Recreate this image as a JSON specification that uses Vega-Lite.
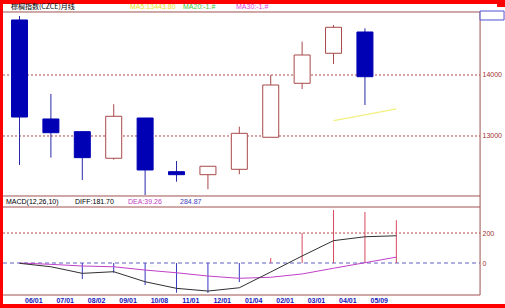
{
  "$schema": "https://vega.github.io/schema/vega-lite/v6.json",
  "width": 502,
  "height": 300,
  "autosize": {"type": "none"},
  "padding": {"left": 3, "top": 4, "right": 0, "bottom": 4},
  "background": "#ff0000",
  "config": {"view": {"fill": "white", "stroke": null}, "font": "Liberation Sans", "scale": {"continuousPadding": 0}},
  "datasets": {
    "candles": [
      {"slot": 1, "open": 14902, "high": 14967, "low": 12525, "close": 13311},
      {"slot": 2, "open": 13279, "high": 13689, "low": 12645, "close": 13054},
      {"slot": 3, "open": 13071, "high": 13071, "low": 12279, "close": 12645},
      {"slot": 4, "open": 12635, "high": 13520, "low": 12612, "close": 13323},
      {"slot": 5, "open": 13295, "high": 13295, "low": 12033, "close": 12443},
      {"slot": 6, "open": 12415, "high": 12590, "low": 12251, "close": 12366},
      {"slot": 7, "open": 12366, "high": 12504, "low": 12127, "close": 12504},
      {"slot": 8, "open": 12454, "high": 13153, "low": 12372, "close": 13044},
      {"slot": 9, "open": 12979, "high": 14000, "low": 12979, "close": 13836},
      {"slot": 10, "open": 13864, "high": 14546, "low": 13770, "close": 14328},
      {"slot": 11, "open": 14356, "high": 14820, "low": 14180, "close": 14782},
      {"slot": 12, "open": 14705, "high": 14765, "low": 13508, "close": 13972}
    ],
    "ma5": [
      {"slot": 11, "ma": 13251},
      {"slot": 12, "ma": 13347},
      {"slot": 13, "ma": 13443}
    ],
    "macd": [
      {"slot": 1, "diff": -2, "dea": 0},
      {"slot": 2, "diff": -25, "dea": -9},
      {"slot": 3, "diff": -69, "dea": -20, "hist": -107},
      {"slot": 4, "diff": -58, "dea": -25, "hist": -65},
      {"slot": 5, "diff": -125, "dea": -47, "hist": -147},
      {"slot": 6, "diff": -169, "dea": -65, "hist": -198},
      {"slot": 7, "diff": -187, "dea": -87, "hist": -200},
      {"slot": 8, "diff": -165, "dea": -102, "hist": -127},
      {"slot": 9, "diff": -60, "dea": -95, "hist": 33},
      {"slot": 10, "diff": 47, "dea": -73, "hist": 200},
      {"slot": 11, "diff": 149, "dea": -35, "hist": 353},
      {"slot": 12, "diff": 175, "dea": 2, "hist": 340},
      {"slot": 13, "diff": 181.7, "dea": 39.26, "hist": 284.87}
    ],
    "priceTicks": [{"v": 13000}, {"v": 14000}],
    "macdTicks": [{"v": 0}, {"v": 200}]
  },
  "resolve": {"scale": {"y": "independent"}, "axis": {"y": "independent"}},
  "layer": [
    {
      "layer": [
        {
          "data": {"name": "priceTicks"},
          "mark": {"type": "rule", "color": "#b04848", "strokeDash": [2, 2], "strokeWidth": 1},
          "encoding": {
            "x": {"datum": 0.4745, "title": null, "scale": {"domain": [0.4745, 16.46], "nice": false, "zero": false, "padding": 0},
                  "axis": {"values": [1.44, 2.44, 3.44, 4.44, 5.44, 6.44, 7.44, 8.44, 9.44, 10.44, 11.44, 12.44],
                           "labelExpr": "['06/01','07/01','08/02','09/01','10/08','11/01','12/01','01/04','02/01','03/01','04/01','05/09'][round(datum.value - 0.44) - 1]",
                           "orient": "bottom", "offset": -9, "ticks": false, "domain": false, "grid": false,
                           "labelPadding": 1, "labelFontSize": 7, "labelFontWeight": "bold", "labelColor": "#1818b8",
                           "labelFont": "Liberation Sans", "labelFlush": false, "labelOverlap": false, "title": null}},
            "x2": {"datum": 15.666},
            "y": {"field": "v", "type": "quantitative", "title": null,
                  "scale": {"domain": [10245.9, 15163.9], "nice": false, "zero": false, "padding": 0},
                  "axis": {"orient": "right", "offset": -25, "values": [13000, 14000], "format": "d", "ticks": false, "domain": false, "grid": false,
                           "labelPadding": 2, "labelFontSize": 7, "labelColor": "#a03030", "labelFont": "Liberation Sans", "title": null}}
          }
        },
        {
          "data": {"values": [{}]},
          "mark": {"type": "rule", "color": "#a05050", "strokeWidth": 1},
          "encoding": {
            "x": {"datum": 0.4745, "title": null, "scale": {"domain": [0.4745, 16.46], "nice": false, "zero": false, "padding": 0}},
            "x2": {"datum": 15.666},
            "y": {"datum": 15032.8, "title": null, "scale": {"domain": [10245.9, 15163.9], "nice": false, "zero": false, "padding": 0}}
          }
        },
        {
          "data": {"values": [{}]},
          "mark": {"type": "rule", "color": "#a05050", "strokeWidth": 1},
          "encoding": {
            "x": {"datum": 0.4745, "title": null, "scale": {"domain": [0.4745, 16.46], "nice": false, "zero": false, "padding": 0}},
            "x2": {"datum": 15.666},
            "y": {"datum": 12016.4, "title": null, "scale": {"domain": [10245.9, 15163.9], "nice": false, "zero": false, "padding": 0}}
          }
        },
        {
          "data": {"values": [{}]},
          "mark": {"type": "rule", "color": "#a05050", "strokeWidth": 1},
          "encoding": {
            "x": {"datum": 15.666, "title": null, "scale": {"domain": [0.4745, 16.46], "nice": false, "zero": false, "padding": 0}},
            "y": {"datum": 15032.8, "title": null, "scale": {"domain": [10245.9, 15163.9], "nice": false, "zero": false, "padding": 0}},
            "y2": {"datum": 10393.4}
          }
        },
        {
          "data": {"values": [{}]},
          "mark": {"type": "rect", "stroke": "#5050d0", "strokeWidth": 1, "fill": "white"},
          "encoding": {
            "x": {"datum": 15.666, "title": null, "scale": {"domain": [0.4745, 16.46], "nice": false, "zero": false, "padding": 0}},
            "x2": {"datum": 16.43},
            "y": {"datum": 15049, "title": null, "scale": {"domain": [10245.9, 15163.9], "nice": false, "zero": false, "padding": 0}},
            "y2": {"datum": 14902}
          }
        },
        {
          "data": {"values": [{}]},
          "mark": {"type": "rect", "fill": "#ff0000"},
          "encoding": {
            "x": {"datum": 16.207, "title": null, "scale": {"domain": [0.4745, 16.46], "nice": false, "zero": false, "padding": 0}},
            "x2": {"datum": 16.46},
            "y": {"datum": 15163.9, "title": null, "scale": {"domain": [10245.9, 15163.9], "nice": false, "zero": false, "padding": 0}},
            "y2": {"datum": 15114.8}
          }
        },
        {
          "data": {"name": "candles"},
          "mark": {"type": "rule", "strokeWidth": 1},
          "encoding": {
            "x": {"field": "slot", "type": "quantitative", "title": null, "scale": {"domain": [0.4745, 16.46], "nice": false, "zero": false, "padding": 0}},
            "y": {"field": "low", "type": "quantitative", "title": null, "scale": {"domain": [10245.9, 15163.9], "nice": false, "zero": false, "padding": 0}},
            "y2": {"field": "high"},
            "color": {"condition": {"test": "datum.close >= datum.open", "value": "#a84848"}, "value": "#2828a8"}
          }
        },
        {
          "data": {"name": "candles"},
          "mark": {"type": "bar", "size": 16, "strokeWidth": 1},
          "encoding": {
            "x": {"field": "slot", "type": "quantitative", "title": null, "scale": {"domain": [0.4745, 16.46], "nice": false, "zero": false, "padding": 0}},
            "y": {"field": "open", "type": "quantitative", "title": null, "scale": {"domain": [10245.9, 15163.9], "nice": false, "zero": false, "padding": 0}},
            "y2": {"field": "close"},
            "fill": {"condition": {"test": "datum.close >= datum.open", "value": "#ffffff"}, "value": "#0000b4"},
            "stroke": {"condition": {"test": "datum.close >= datum.open", "value": "#a84848"}, "value": "#0000b4"}
          }
        },
        {
          "data": {"name": "ma5"},
          "mark": {"type": "line", "color": "#f2f080", "strokeWidth": 1.3},
          "encoding": {
            "x": {"field": "slot", "type": "quantitative", "title": null, "scale": {"domain": [0.4745, 16.46], "nice": false, "zero": false, "padding": 0}},
            "y": {"field": "ma", "type": "quantitative", "title": null, "scale": {"domain": [10245.9, 15163.9], "nice": false, "zero": false, "padding": 0}}
          }
        },
        {
          "data": {"values": [{}]},
          "mark": {"type": "text", "text": "棕榈指数(CZCE)月线", "align": "left", "baseline": "middle", "fontSize": 7, "font": "Noto Sans CJK SC", "color": "#000000"},
          "encoding": {
            "x": {"datum": 0.729, "title": null, "scale": {"domain": [0.4745, 16.46], "nice": false, "zero": false, "padding": 0}},
            "y": {"datum": 15114.8, "title": null, "scale": {"domain": [10245.9, 15163.9], "nice": false, "zero": false, "padding": 0}}
          }
        },
        {
          "data": {"values": [{}]},
          "mark": {"type": "text", "text": "MA5:13443.80", "align": "left", "baseline": "middle", "fontSize": 7, "color": "#e8e020"},
          "encoding": {
            "x": {"datum": 4.519, "title": null, "scale": {"domain": [0.4745, 16.46], "nice": false, "zero": false, "padding": 0}},
            "y": {"datum": 15114.8, "title": null, "scale": {"domain": [10245.9, 15163.9], "nice": false, "zero": false, "padding": 0}}
          }
        },
        {
          "data": {"values": [{}]},
          "mark": {"type": "text", "text": "MA20:-1.#", "align": "left", "baseline": "middle", "fontSize": 7, "color": "#40c840"},
          "encoding": {
            "x": {"datum": 6.207, "title": null, "scale": {"domain": [0.4745, 16.46], "nice": false, "zero": false, "padding": 0}},
            "y": {"datum": 15114.8, "title": null, "scale": {"domain": [10245.9, 15163.9], "nice": false, "zero": false, "padding": 0}}
          }
        },
        {
          "data": {"values": [{}]},
          "mark": {"type": "text", "text": "MA30:-1.#", "align": "left", "baseline": "middle", "fontSize": 7, "color": "#e040e0"},
          "encoding": {
            "x": {"datum": 7.895, "title": null, "scale": {"domain": [0.4745, 16.46], "nice": false, "zero": false, "padding": 0}},
            "y": {"datum": 15114.8, "title": null, "scale": {"domain": [10245.9, 15163.9], "nice": false, "zero": false, "padding": 0}}
          }
        }
      ]
    },
    {
      "layer": [
        {
          "data": {"name": "macdTicks"},
          "mark": {"type": "rule", "strokeWidth": 1},
          "encoding": {
            "x": {"datum": 0.4745, "title": null, "scale": {"domain": [0.4745, 16.46], "nice": false, "zero": false, "padding": 0}},
            "x2": {"datum": 15.666},
            "y": {"field": "v", "type": "quantitative", "title": null,
                  "scale": {"domain": [-273.3, 1726.7], "nice": false, "zero": false, "padding": 0},
                  "axis": {"orient": "right", "offset": -25, "values": [0, 200], "format": "d", "ticks": false, "domain": false, "grid": false,
                           "labelPadding": 2, "labelFontSize": 7, "labelColor": "#a03030", "labelFont": "Liberation Sans", "title": null}},
            "color": {"condition": {"test": "datum.v == 0", "value": "#6060c0"}, "value": "#b04848"},
            "strokeDash": {"condition": {"test": "datum.v == 0", "value": [4, 3]}, "value": [2, 2]}
          }
        },
        {
          "data": {"values": [{}]},
          "mark": {"type": "rule", "color": "#a05050", "strokeWidth": 1},
          "encoding": {
            "x": {"datum": 0.4745, "title": null, "scale": {"domain": [0.4745, 16.46], "nice": false, "zero": false, "padding": 0}},
            "x2": {"datum": 15.666},
            "y": {"datum": 373.3, "title": null, "scale": {"domain": [-273.3, 1726.7], "nice": false, "zero": false, "padding": 0}}
          }
        },
        {
          "data": {"values": [{}]},
          "mark": {"type": "rule", "color": "#a05050", "strokeWidth": 1},
          "encoding": {
            "x": {"datum": 0.4745, "title": null, "scale": {"domain": [0.4745, 16.46], "nice": false, "zero": false, "padding": 0}},
            "x2": {"datum": 15.666},
            "y": {"datum": -213.3, "title": null, "scale": {"domain": [-273.3, 1726.7], "nice": false, "zero": false, "padding": 0}}
          }
        },
        {
          "data": {"name": "macd"},
          "transform": [{"filter": "isValid(datum.hist)"}],
          "mark": {"type": "rule", "strokeWidth": 1},
          "encoding": {
            "x": {"field": "slot", "type": "quantitative", "title": null, "scale": {"domain": [0.4745, 16.46], "nice": false, "zero": false, "padding": 0}},
            "y": {"field": "hist", "type": "quantitative", "title": null, "scale": {"domain": [-273.3, 1726.7], "nice": false, "zero": false, "padding": 0}},
            "y2": {"datum": 0},
            "color": {"condition": {"test": "datum.hist >= 0", "value": "#d84860"}, "value": "#3838c0"}
          }
        },
        {
          "data": {"name": "macd"},
          "mark": {"type": "line", "color": "#c040c8", "strokeWidth": 1},
          "encoding": {
            "x": {"field": "slot", "type": "quantitative", "title": null, "scale": {"domain": [0.4745, 16.46], "nice": false, "zero": false, "padding": 0}},
            "y": {"field": "dea", "type": "quantitative", "title": null, "scale": {"domain": [-273.3, 1726.7], "nice": false, "zero": false, "padding": 0}}
          }
        },
        {
          "data": {"name": "macd"},
          "mark": {"type": "line", "color": "#303030", "strokeWidth": 1},
          "encoding": {
            "x": {"field": "slot", "type": "quantitative", "title": null, "scale": {"domain": [0.4745, 16.46], "nice": false, "zero": false, "padding": 0}},
            "y": {"field": "diff", "type": "quantitative", "title": null, "scale": {"domain": [-273.3, 1726.7], "nice": false, "zero": false, "padding": 0}}
          }
        },
        {
          "data": {"values": [{}]},
          "mark": {"type": "text", "text": "MACD(12,26,10)", "align": "left", "baseline": "middle", "fontSize": 7, "color": "#000000"},
          "encoding": {
            "x": {"datum": 0.57, "title": null, "scale": {"domain": [0.4745, 16.46], "nice": false, "zero": false, "padding": 0}},
            "y": {"datum": 410, "title": null, "scale": {"domain": [-273.3, 1726.7], "nice": false, "zero": false, "padding": 0}}
          }
        },
        {
          "data": {"values": [{}]},
          "mark": {"type": "text", "text": "DIFF:181.70", "align": "left", "baseline": "middle", "fontSize": 7, "color": "#000000"},
          "encoding": {
            "x": {"datum": 2.767, "title": null, "scale": {"domain": [0.4745, 16.46], "nice": false, "zero": false, "padding": 0}},
            "y": {"datum": 410, "title": null, "scale": {"domain": [-273.3, 1726.7], "nice": false, "zero": false, "padding": 0}}
          }
        },
        {
          "data": {"values": [{}]},
          "mark": {"type": "text", "text": "DEA:39.26", "align": "left", "baseline": "middle", "fontSize": 7, "color": "#c040c0"},
          "encoding": {
            "x": {"datum": 4.455, "title": null, "scale": {"domain": [0.4745, 16.46], "nice": false, "zero": false, "padding": 0}},
            "y": {"datum": 410, "title": null, "scale": {"domain": [-273.3, 1726.7], "nice": false, "zero": false, "padding": 0}}
          }
        },
        {
          "data": {"values": [{}]},
          "mark": {"type": "text", "text": "284.87", "align": "left", "baseline": "middle", "fontSize": 7, "color": "#4040c0"},
          "encoding": {
            "x": {"datum": 6.111, "title": null, "scale": {"domain": [0.4745, 16.46], "nice": false, "zero": false, "padding": 0}},
            "y": {"datum": 410, "title": null, "scale": {"domain": [-273.3, 1726.7], "nice": false, "zero": false, "padding": 0}}
          }
        }
      ]
    }
  ]
}
